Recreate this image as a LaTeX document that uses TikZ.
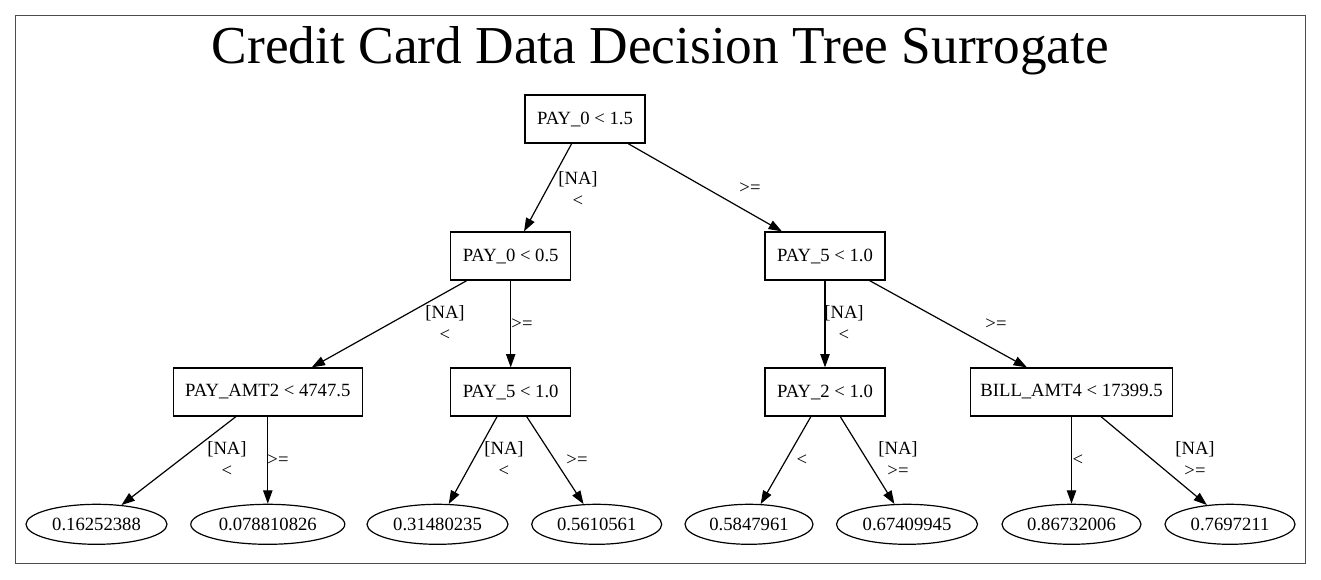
\documentclass[tikz,border=0pt]{standalone}
\usepackage{fontspec}
\setmainfont{Liberation Serif}
\usetikzlibrary{arrows.meta,shapes.geometric}
\begin{document}
\begin{tikzpicture}[x=0.75pt,y=-0.75pt,
  txt/.style={font=\fontsize{14}{17}\selectfont},
  split/.style={txt, draw=black, rectangle, line width=0.9pt, minimum height=36pt, inner sep=0pt},
  leaf/.style={txt, draw=black, ellipse, line width=0.9pt, minimum height=30pt, inner sep=0pt},
  edge/.style={line width=0.9pt, -{Triangle[length=10pt,width=7pt]}},
  lbl/.style={txt, align=center, inner sep=0pt},
  frame/.style={draw=black!70, line width=1.4pt}]
\useasboundingbox (0,0) rectangle (1321,579);
\draw[frame] (15.5,15.5) rectangle (1305.5,563.5);
\node[anchor=base, inner sep=0pt, font=\fontsize{40}{48}\selectfont] (title) at (660.5,63.3) {Credit Card Data Decision Tree Surrogate};
% split nodes
\node[split, minimum width=90pt] (n0) at (585,119) {PAY\_0 < 1.5};
\node[split, minimum width=90pt] (n1) at (510.7,256) {PAY\_0 < 0.5};
\node[split, minimum width=90pt] (n2) at (825,256) {PAY\_5 < 1.0};
\node[split, minimum width=141.75pt] (n3) at (267.8,392) {PAY\_AMT2 < 4747.5};
\node[split, minimum width=90pt] (n4) at (510.7,392) {PAY\_5 < 1.0};
\node[split, minimum width=90pt] (n5) at (825,392) {PAY\_2 < 1.0};
\node[split, minimum width=151.5pt] (n6) at (1071.5,392) {BILL\_AMT4 < 17399.5};
% leaves
\node[leaf, minimum width=105.75pt] (e1) at (96.5,524.3) {0.16252388};
\node[leaf, minimum width=115.5pt] (e2) at (267.8,524.3) {0.078810826};
\node[leaf, minimum width=105.75pt] (e3) at (437.5,524.3) {0.31480235};
\node[leaf, minimum width=97.5pt] (e4) at (596.7,524.3) {0.5610561};
\node[leaf, minimum width=96pt] (e5) at (749,524.3) {0.5847961};
\node[leaf, minimum width=105.75pt] (e6) at (907,524.3) {0.67409945};
\node[leaf, minimum width=104.25pt] (e7) at (1071.5,524.3) {0.86732006};
\node[leaf, minimum width=97.5pt] (e8) at (1230,524.3) {0.7697211};
% edges
\draw[edge] (n0) -- (n1);
\draw[edge] (n0) -- (n2);
\draw[edge] (n1) -- (n3);
\draw[edge] (n1) -- (n4);
\draw[edge] (n2) -- (n5);
\draw[edge] (n2) -- (n6);
\draw[edge] (n3) -- (e1);
\draw[edge] (n3) -- (e2);
\draw[edge] (n4) -- (e3);
\draw[edge] (n4) -- (e4);
\draw[edge] (n5) -- (e5);
\draw[edge] (n5) -- (e6);
\draw[edge] (n6) -- (e7);
\draw[edge] (n6) -- (e8);
% edge labels
\node[lbl] (l1) at (578,189) {[NA]\\<};
\node[lbl] (l2) at (750,188) {>=};
\node[lbl] (l3) at (445,323) {[NA]\\<};
\node[lbl] (l4) at (522,324) {>=};
\node[lbl] (l5) at (844,323) {[NA]\\<};
\node[lbl] (l6) at (996,324) {>=};
\node[lbl] (l7) at (227,459) {[NA]\\<};
\node[lbl] (l8) at (278,460) {>=};
\node[lbl] (l9) at (504,459) {[NA]\\<};
\node[lbl] (l10) at (577,460) {>=};
\node[lbl] (l11) at (802,460) {<};
\node[lbl] (l12) at (898,459) {[NA]\\>=};
\node[lbl] (l13) at (1078,460) {<};
\node[lbl] (l14) at (1195,459) {[NA]\\>=};
\end{tikzpicture}
\end{document}
